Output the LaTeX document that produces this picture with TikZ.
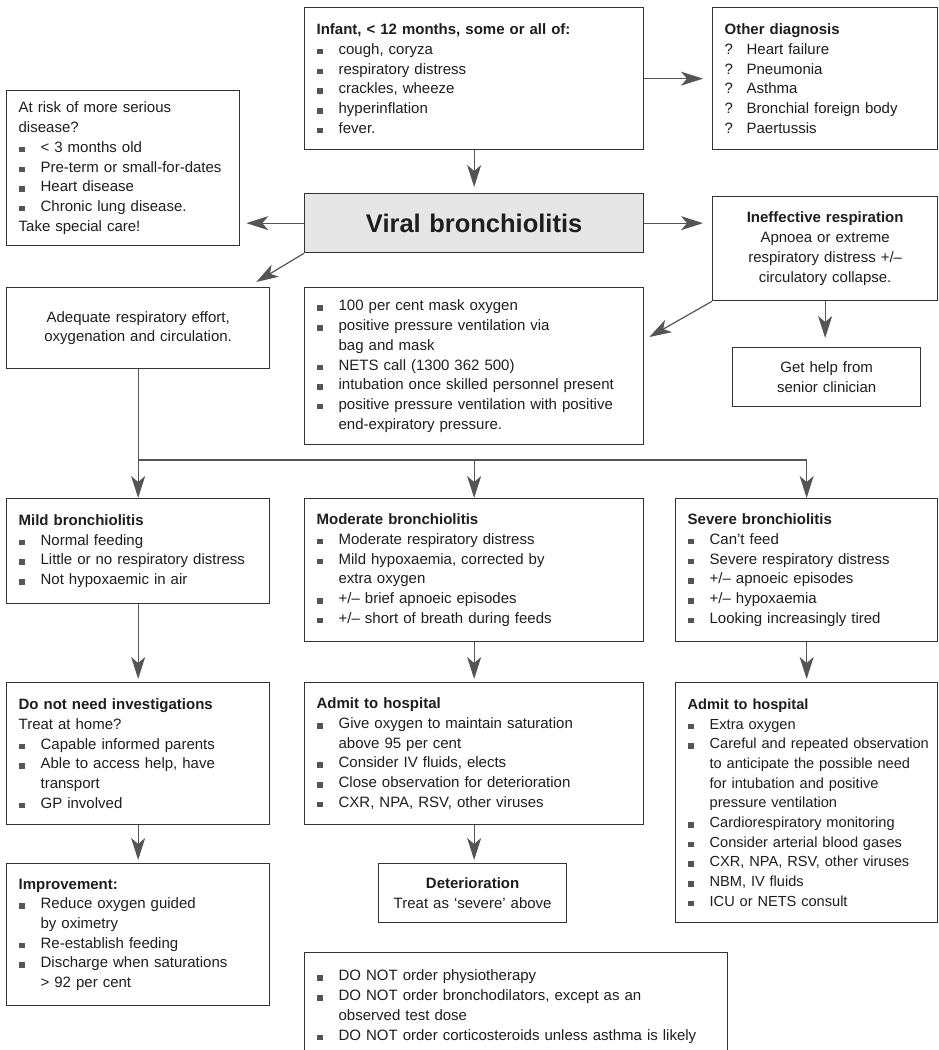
\documentclass[tikz,border=0pt]{standalone}
\usepackage{fontspec}
\setmainfont{Liberation Sans}
\usetikzlibrary{arrows.meta}
\definecolor{linegray}{HTML}{555555}
\definecolor{boxgray}{HTML}{333333}
\definecolor{fillgray}{HTML}{E6E6E6}
\definecolor{txtgray}{HTML}{1E1E1E}
\newcommand{\bul}{\textcolor{linegray}{\rule{6pt}{5.5pt}}}
\newcommand{\itm}[1]{\makebox[22pt][l]{\bul}\mbox{#1}}
\newcommand{\qitm}[1]{\makebox[22pt][l]{?}\mbox{#1}}
\newcommand{\cnt}[1]{\hspace*{22pt}\mbox{#1}}

\begin{document}
\begin{tikzpicture}[x=1pt, y=-1pt, >={Stealth[length=22pt,width=14pt,inset=6pt]},
    font=\fontsize{15}{19.7}\selectfont,
    box/.style={draw=boxgray, line width=1.3pt, fill=white, anchor=north west,
      inner xsep=12pt, inner ysep=0pt, align=left, text=txtgray},
    cbox/.style={box, align=center},
    arr/.style={->, draw=linegray, line width=1.2pt},
    line/.style={draw=linegray, line width=1.2pt}]
  \useasboundingbox (0,0) rectangle (938,1050);
  \fill[white] (0,0) rectangle (938,1050);
  \clip (0,0) rectangle (938,1050);
  % presentation and diagnosis
  \node[box, text width=315pt, minimum height=142pt] (infant) at (304,7)
    {\textbf{Infant, < 12 months, some or all of:}\\\itm{cough, coryza}\\\itm{respiratory distress}\\\itm{crackles, wheeze}\\\itm{hyperinflation}\\\itm{fever.}};
  \node[box, text width=201pt, minimum height=142pt] (other) at (712,7)
    {\textbf{Other diagnosis}\\\qitm{Heart failure}\\\qitm{Pneumonia}\\\qitm{Asthma}\\\qitm{Bronchial foreign body}\\\qitm{Paertussis}};
  \node[box, text width=209pt, minimum height=155pt] (atrisk) at (6,90)
    {At risk of more serious\\disease?\\\itm{< 3 months old}\\\itm{Pre-term or small-for-dates}\\\itm{Heart disease}\\\itm{Chronic lung disease.}\\Take special care!};
  \node[cbox, fill=fillgray, text width=315pt, minimum height=59pt,
    font=\fontsize{25.5}{28}\selectfont\bfseries] (viral) at (304,193) {Viral bronchiolitis};
  \node[cbox, text width=201pt, minimum height=104pt] (ineff) at (712,196)
    {\textbf{Ineffective respiration}\\Apnoea or extreme\\respiratory distress +/–\\circulatory collapse.};
  % first assessment
  \node[cbox, text width=239pt, minimum height=81pt] (adequate) at (6,287)
    {Adequate respiratory effort,\\oxygenation and circulation.};
  \node[box, text width=315pt, minimum height=157pt] (support) at (304,287)
    {\itm{100 per cent mask oxygen}\\\itm{positive pressure ventilation via}\\\cnt{bag and mask}\\\itm{NETS call (1300 362 500)}\\\itm{intubation once skilled personnel present}\\\itm{positive pressure ventilation with positive}\\\cnt{end-expiratory pressure.}};
  \node[cbox, text width=164pt, minimum height=59pt] (gethelp) at (732,347)
    {Get help from\\senior clinician};
  % severity
  \node[box, text width=239pt, minimum height=105pt] (mild) at (6,498)
    {\textbf{Mild bronchiolitis}\\\itm{Normal feeding}\\\itm{Little or no respiratory distress}\\\itm{Not hypoxaemic in air}};
  \node[box, text width=315pt, minimum height=143pt] (moderate) at (304,498)
    {\textbf{Moderate bronchiolitis}\\\itm{Moderate respiratory distress}\\\itm{Mild hypoxaemia, corrected by}\\\cnt{extra oxygen}\\\itm{+/– brief apnoeic episodes}\\\itm{+/– short of breath during feeds}};
  \node[box, text width=238pt, minimum height=143pt] (severe) at (675,498)
    {\textbf{Severe bronchiolitis}\\\itm{Can’t feed}\\\itm{Severe respiratory distress}\\\itm{+/– apnoeic episodes}\\\itm{+/– hypoxaemia}\\\itm{Looking increasingly tired}};
  % management
  \node[box, text width=239pt, minimum height=142pt] (home) at (6,682)
    {\textbf{Do not need investigations}\\Treat at home?\\\itm{Capable informed parents}\\\itm{Able to access help, have}\\\cnt{transport}\\\itm{GP involved}};
  \node[box, text width=315pt, minimum height=142pt] (admitmod) at (304,682)
    {\textbf{Admit to hospital}\\\itm{Give oxygen to maintain saturation}\\\cnt{above 95 per cent}\\\itm{Consider IV fluids, elects}\\\itm{Close observation for deterioration}\\\itm{CXR, NPA, RSV, other viruses}};
  \node[box, text width=238pt, minimum height=240pt,
    font=\fontsize{14.6}{19.7}\selectfont] (admitsev) at (675,682)
    {\textbf{Admit to hospital}\\\itm{Extra oxygen}\\\itm{Careful and repeated observation}\\\cnt{to anticipate the possible need}\\\cnt{for intubation and positive}\\\cnt{pressure ventilation}\\\itm{Cardiorespiratory monitoring}\\\itm{Consider arterial blood gases}\\\itm{CXR, NPA, RSV, other viruses}\\\itm{NBM, IV fluids}\\\itm{ICU or NETS consult}};
  \node[box, text width=239pt, minimum height=142pt] (improve) at (6,863)
    {\textbf{Improvement:}\\\itm{Reduce oxygen guided}\\\cnt{by oximetry}\\\itm{Re-establish feeding}\\\itm{Discharge when saturations}\\\cnt{> 92 per cent}};
  \node[cbox, text width=164pt, minimum height=59pt] (deter) at (378,863)
    {\textbf{Deterioration}\\Treat as ‘severe’ above};
  \node[box, text width=399pt, minimum height=108pt] (donts) at (304,952)
    {\itm{DO NOT order physiotherapy}\\\itm{DO NOT order bronchodilators, except as an}\\\cnt{observed test dose}\\\itm{DO NOT order corticosteroids unless asthma is likely}};
  % connectors
  \draw[arr, shorten >=9pt] (infant.east) -- (other.west);
  \draw[arr, shorten >=6pt] (infant.south) -- (viral.north);
  \draw[arr, shorten >=6pt] (viral.west) -- (viral.west -| atrisk.east);
  \draw[arr, shorten >=9pt] (viral.east) -- (viral.east -| ineff.west);
  \draw[arr] (viral.south west) -- ([shift={(-14pt,5pt)}]adequate.north east);
  \draw[arr] (ineff.south west) -- ([shift={(5pt,-50pt)}]support.north east);
  \draw[arr, shorten >=9pt] (ineff.south) -- (ineff.south |- gethelp.north);
  \coordinate (split) at (adequate.south |- 0,460);
  \draw[arr] (adequate.south) -- (mild.north);
  \draw[line] (split) -- (split -| severe.north);
  \draw[arr] (split -| moderate.north) -- (moderate.north);
  \draw[arr] (split -| severe.north) -- (severe.north);
  \draw[arr, shorten >=3pt] (mild.south) -- (home.north);
  \draw[arr, shorten >=3pt] (moderate.south) -- (admitmod.north);
  \draw[arr, shorten >=3pt] (severe.south) -- (admitsev.north);
  \draw[arr, shorten >=3pt] (home.south) -- (improve.north);
  \draw[arr, shorten >=3pt] (admitmod.south) -- (admitmod.south |- deter.north);
\end{tikzpicture}
\end{document}
